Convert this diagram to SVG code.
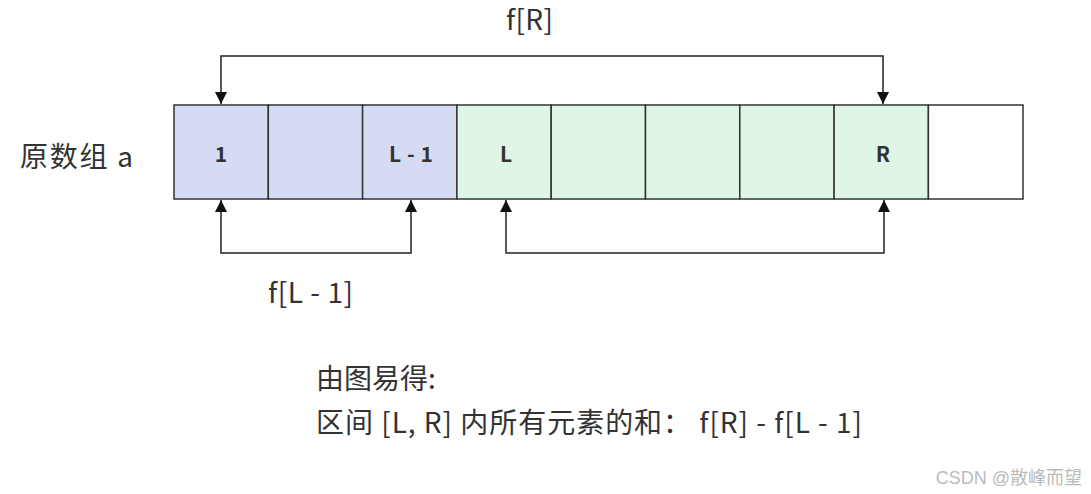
<svg xmlns="http://www.w3.org/2000/svg" width="1091" height="494" viewBox="0 0 1091 494">
<style>
.cell{stroke:#333;stroke-width:1.5}
.blue{fill:#d5dbf3}
.green{fill:#dff5e5}
.white{fill:#fff}
.lbl{font-family:"Noto Sans CJK SC","Noto Sans",sans-serif;font-weight:bold;font-size:21px;fill:#333;text-anchor:middle}
.txt{font-family:"Noto Sans CJK SC","Noto Sans",sans-serif;font-size:28px;fill:#333}
.conn{fill:none;stroke:#222;stroke-width:1.5}
</style>
<defs>
<marker id="arr" viewBox="0 0 10 10" refX="10" refY="5" markerWidth="12" markerHeight="12" markerUnits="userSpaceOnUse" orient="auto-start-reverse">
<path d="M0,0 L10,5 L0,10 z" fill="#111"/>
</marker>
</defs>
<rect width="1091" height="494" fill="#fff"/>
<g id="label-a"><text class="txt" x="20" y="167" textLength="113" lengthAdjust="spacing">原数组 a</text></g>
<g id="cell1"><rect class="cell blue" x="174" y="105" width="94.3" height="94"/><text class="lbl" x="221" y="162">1</text></g>
<g id="cell2"><rect class="cell blue" x="268.3" y="105" width="94.3" height="94"/></g>
<g id="cell3"><rect class="cell blue" x="362.6" y="105" width="94.3" height="94"/><text class="lbl" x="411" y="162" textLength="44" lengthAdjust="spacing">L - 1</text></g>
<g id="cell4"><rect class="cell green" x="456.9" y="105" width="94.3" height="94"/><text class="lbl" x="506" y="162">L</text></g>
<g id="cell5"><rect class="cell green" x="551.2" y="105" width="94.3" height="94"/></g>
<g id="cell6"><rect class="cell green" x="645.5" y="105" width="94.3" height="94"/></g>
<g id="cell7"><rect class="cell green" x="739.8" y="105" width="94.3" height="94"/></g>
<g id="cell8"><rect class="cell green" x="834.1" y="105" width="94.3" height="94"/><text class="lbl" x="883" y="162">R</text></g>
<g id="cell9"><rect class="cell white" x="928.4" y="105" width="94.6" height="94"/></g>
<g id="connectors">
<path class="conn" d="M221,104 V56 H883 V104" marker-start="url(#arr)" marker-end="url(#arr)"/>
<path class="conn" d="M221,200 V253 H411 V200" marker-start="url(#arr)" marker-end="url(#arr)"/>
<path class="conn" d="M506,200 V253 H884 V200" marker-start="url(#arr)" marker-end="url(#arr)"/>
</g>
<g id="label-fR"><text class="txt" x="506" y="30" textLength="47" lengthAdjust="spacing">f[R]</text></g>
<g id="label-fL1"><text class="txt" x="268" y="303" textLength="85" lengthAdjust="spacing">f[L - 1]</text></g>
<g id="note">
<text class="txt" x="316" y="389">由图易得:</text>
<text class="txt" x="316" y="433" textLength="546" lengthAdjust="spacing">区间 [L, R] 内所有元素的和： f[R] - f[L - 1]</text>
</g>
<g id="watermark"><text x="1082" y="484" text-anchor="end" style="font-family:'Liberation Sans','Noto Sans CJK SC',sans-serif;font-size:18px;fill:#bbb">CSDN @散峰而望</text></g>
</svg>
